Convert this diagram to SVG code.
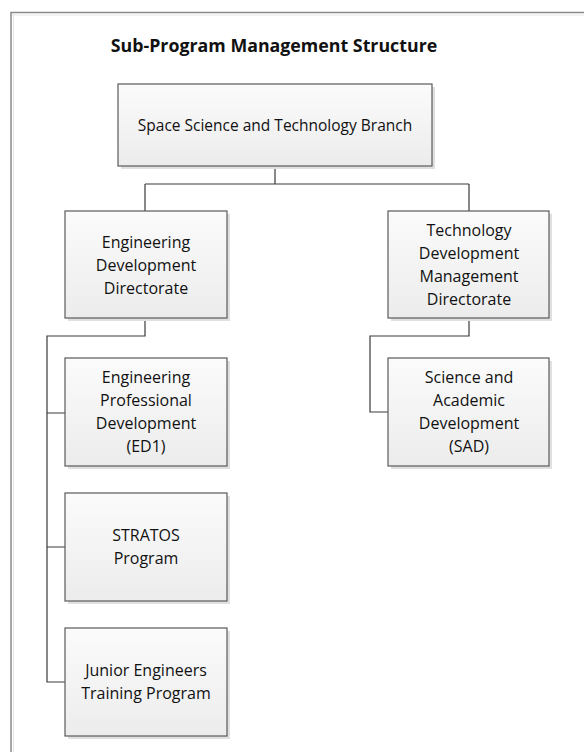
<svg xmlns="http://www.w3.org/2000/svg" width="584" height="752" viewBox="0 0 584 752">
<defs>
<linearGradient id="g" x1="0" y1="0" x2="0" y2="1">
<stop offset="0" stop-color="#fbfbfb"/>
<stop offset="1" stop-color="#ececec"/>
</linearGradient>
<style>
.box{fill:url(#g);stroke:#5a5a5a;stroke-width:1.2}
.sh{fill:#e0e0e0}
.t{font-family:"Open Sans","Liberation Sans",sans-serif;font-size:16px;fill:#111;text-anchor:middle}
.c{fill:none;stroke:#3a3a3a;stroke-width:1.2}
</style>
</defs>
<rect x="0" y="0" width="584" height="752" fill="#fff"/>
<rect x="11" y="12.5" width="620" height="800" fill="none" stroke="#8a8a8a" stroke-width="1.5"/>
<line x1="12" y1="15" x2="584" y2="15" stroke="#e6e6e6" stroke-width="1"/>
<line x1="13.5" y1="14" x2="13.5" y2="752" stroke="#e6e6e6" stroke-width="1"/>
<text x="274" y="52" style="font-family:'Open Sans','Liberation Sans',sans-serif;font-size:17.8px;font-weight:bold;fill:#111" text-anchor="middle">Sub-Program Management Structure</text>
<g id="connectors">
<path class="c" d="M275,166V184M145,184H469M145,184V211M469,184V211"/>
<path class="c" d="M145,318V336H47V682H65M47,413H65M47,547H65"/>
<path class="c" d="M469,318V336H370V412H388"/>
</g>
<g id="n-sstb">
<rect class="sh" x="121" y="87" width="314" height="82"/>
<rect class="box" x="118" y="84" width="314" height="82"/>
<text class="t" x="275" y="131" style="font-size:15.5px">Space Science and Technology Branch</text>
</g>
<g id="n-edd">
<rect class="sh" x="68" y="214" width="162" height="107"/>
<rect class="box" x="65" y="211" width="162" height="107"/>
<text class="t" x="146" y="248">Engineering</text>
<text class="t" x="146" y="271">Development</text>
<text class="t" x="146" y="294">Directorate</text>
</g>
<g id="n-tdmd">
<rect class="sh" x="391" y="214" width="161" height="107"/>
<rect class="box" x="388" y="211" width="161" height="107"/>
<text class="t" x="469" y="236">Technology</text>
<text class="t" x="469" y="259">Development</text>
<text class="t" x="469" y="282">Management</text>
<text class="t" x="469" y="305">Directorate</text>
</g>
<g id="n-epd">
<rect class="sh" x="68" y="361" width="162" height="108"/>
<rect class="box" x="65" y="358" width="162" height="108"/>
<text class="t" x="146" y="383">Engineering</text>
<text class="t" x="146" y="406">Professional</text>
<text class="t" x="146" y="429">Development</text>
<text class="t" x="146" y="452">(ED1)</text>
</g>
<g id="n-sad">
<rect class="sh" x="391" y="361" width="161" height="108"/>
<rect class="box" x="388" y="358" width="161" height="108"/>
<text class="t" x="469" y="383">Science and</text>
<text class="t" x="469" y="406">Academic</text>
<text class="t" x="469" y="429">Development</text>
<text class="t" x="469" y="452">(SAD)</text>
</g>
<g id="n-stratos">
<rect class="sh" x="68" y="496" width="162" height="108"/>
<rect class="box" x="65" y="493" width="162" height="108"/>
<text class="t" x="146" y="541">STRATOS</text>
<text class="t" x="146" y="564">Program</text>
</g>
<g id="n-jetp">
<rect class="sh" x="68" y="631" width="162" height="108"/>
<rect class="box" x="65" y="628" width="162" height="108"/>
<text class="t" x="146" y="676">Junior Engineers</text>
<text class="t" x="146" y="699">Training Program</text>
</g>
</svg>
